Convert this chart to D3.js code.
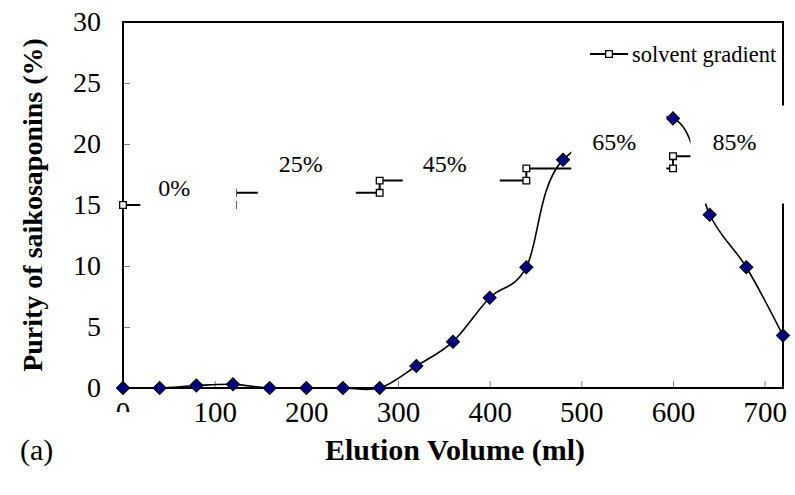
<!DOCTYPE html>
<html>
<head>
<meta charset="utf-8">
<script src="https://cdn.jsdelivr.net/npm/d3@7"></script>
<style>
  body { margin: 0; background: #fff; }
  svg { display: block; }
</style>
</head>
<body>
<script>
// Elution volume (ml) and purity of saikosaponins (%)
const volume = [0, 40, 80, 120, 160, 200, 240, 280, 320, 360, 400, 440, 480, 600, 640, 680, 720];
const purity = [0, 0, 0.2, 0.3, 0, 0, 0, 0, 1.8, 3.8, 7.4, 9.9, 18.7, 22.1, 14.2, 9.9, 4.3];

// Solvent gradient drawn as a step series
const gradientVolume = [0, 120, 120, 280, 280, 440, 440, 600, 600, 720];
const gradientLevel  = [15, 15, 16, 16, 17, 17, 18, 18, 19, 19];

// Ethanol concentration of each gradient step, placed at (volume, level)
const stepLabels = ["0%", "25%", "45%", "65%", "85%"];
const stepLabelVolume = [56, 194, 351, 536, 667];
const stepLabelLevel  = [16.4, 18.4, 18.4, 20.2, 20.2];

const xTicks = [0, 100, 200, 300, 400, 500, 600, 700];
const yTicks = [0, 5, 10, 15, 20, 25, 30];

const FONT = "'Liberation Serif', 'Times New Roman', serif";
const W = 795, H = 495;
const plot = { left: 123, right: 783, top: 22, bottom: 388 };

const svg = d3.select("body").append("svg").attr("width", W).attr("height", H)
  .attr("font-family", FONT);

const x = d3.scaleLinear().domain([0, 720]).range([plot.left, plot.right]);
const y = d3.scaleLinear().domain([0, 30]).range([plot.bottom, plot.top]);

// inward tick marks
const xAxis = d3.axisBottom(x).tickValues(xTicks).tickSize(-7).tickPadding(13).tickFormat(d3.format("d"));
const yAxis = d3.axisLeft(y).tickValues(yTicks).tickSize(-7).tickPadding(22).tickFormat(d3.format("d"));

const gx = svg.append("g").attr("transform", `translate(0,${plot.bottom})`).call(xAxis);
const gy = svg.append("g").attr("transform", `translate(${plot.left},0)`).call(yAxis);
[gx, gy].forEach(g => {
  g.attr("font-family", FONT).attr("font-size", 28);
  g.select(".domain").remove();
  g.selectAll(".tick line").attr("stroke", "#808080").attr("stroke-width", 1);
  g.selectAll(".tick text").attr("font-family", FONT).attr("font-size", 28).attr("fill", "#000");
});
gx.selectAll(".tick text").attr("font-size", 29);

// the first x label is cut off at its lower half
svg.append("clipPath").attr("id", "zeroClip")
  .append("rect").attr("x", 0).attr("y", 0).attr("width", W).attr("height", plot.bottom + 24);
gx.selectAll(".tick").filter(d => d === 0).select("text").remove();
svg.append("text")
  .attr("x", x(0)).attr("y", plot.bottom + 13).attr("dy", "0.71em")
  .attr("text-anchor", "middle").attr("font-size", 29).attr("font-family", FONT)
  .attr("clip-path", "url(#zeroClip)")
  .text(d3.format("d")(xTicks[0]));

// plot area frame
svg.append("rect")
  .attr("x", plot.left).attr("y", plot.top)
  .attr("width", plot.right - plot.left).attr("height", plot.bottom - plot.top)
  .attr("fill", "none").attr("stroke", "#000").attr("stroke-width", 2);

// solvent gradient steps
const gradient = gradientVolume.map((v, i) => [v, gradientLevel[i]]);
svg.append("path")
  .datum(gradient)
  .attr("fill", "none").attr("stroke", "#000").attr("stroke-width", 2)
  .attr("d", d3.line().x(d => x(d[0])).y(d => y(d[1])));

const squareSym = d3.symbol(d3.symbolSquare, 44);
svg.append("g").selectAll("path")
  .data(gradient)
  .join("path")
  .attr("transform", d => `translate(${x(d[0])},${y(d[1])})`)
  .attr("d", squareSym)
  .attr("fill", "#fff").attr("stroke", "#000").attr("stroke-width", 1.3);

// purity curve
const pts = volume.map((v, i) => [v, purity[i]]);
svg.append("path")
  .datum(pts)
  .attr("fill", "none").attr("stroke", "#000").attr("stroke-width", 1.6)
  .attr("d", d3.line().x(d => x(d[0])).y(d => y(d[1])).curve(d3.curveCardinal.tension(0)));

const diamondSym = d3.symbol(d3.symbolSquare, 86);
svg.append("g").selectAll("path")
  .data(pts)
  .join("path")
  .attr("transform", d => `translate(${x(d[0])},${y(d[1])}) rotate(45)`)
  .attr("d", diamondSym)
  .attr("fill", "#000080").attr("stroke", "#000").attr("stroke-width", 1);

// step labels sit in white text boxes laid over the series
const boxes = [
  { w: 96, h: 48, dx: -34, dy: -22 },
  { w: 98, h: 56, dx: -43, dy: -20 },
  { w: 97, h: 46, dx: -42, dy: -20 },
  { w: 95, h: 104, dx: -43, dy: -45 },
  { w: 105, h: 98, dx: -44, dy: -36 }
];
const lab = svg.append("g").selectAll("g")
  .data(stepLabels)
  .join("g")
  .attr("transform", (d, i) => `translate(${x(stepLabelVolume[i])},${y(stepLabelLevel[i])})`);
lab.append("rect")
  .attr("x", (d, i) => boxes[i].dx).attr("y", (d, i) => boxes[i].dy)
  .attr("width", (d, i) => boxes[i].w).attr("height", (d, i) => boxes[i].h)
  .attr("fill", "#fff");
lab.append("text")
  .attr("text-anchor", "middle").attr("dy", "0.35em")
  .attr("font-family", FONT).attr("font-size", 24)
  .text(d => d);

// legend
const lg = svg.append("g").attr("transform", "translate(590,54)");
lg.append("line").attr("x1", 0).attr("x2", 38).attr("y1", 0).attr("y2", 0)
  .attr("stroke", "#000").attr("stroke-width", 2);
lg.append("path").attr("transform", "translate(19,0)").attr("d", squareSym)
  .attr("fill", "#fff").attr("stroke", "#000").attr("stroke-width", 1.3);
lg.append("text").attr("x", 42).attr("dy", "0.35em")
  .attr("font-family", FONT).attr("font-size", 22.5)
  .text("solvent gradient");

// axis titles
svg.append("text")
  .attr("transform", `translate(32,${(plot.top + plot.bottom) / 2}) rotate(-90)`)
  .attr("text-anchor", "middle").attr("dy", "0.35em")
  .attr("font-family", FONT).attr("font-size", 28).attr("font-weight", "bold")
  .text("Purity of saikosaponins (%)");

svg.append("text")
  .attr("x", 455).attr("y", 449).attr("dy", "0.35em")
  .attr("text-anchor", "middle")
  .attr("font-family", FONT).attr("font-size", 30).attr("font-weight", "bold")
  .text("Elution Volume (ml)");

svg.append("text")
  .attr("x", 20).attr("y", 449).attr("dy", "0.35em")
  .attr("font-family", FONT).attr("font-size", 30)
  .text("(a)");
</script>
</body>
</html>
